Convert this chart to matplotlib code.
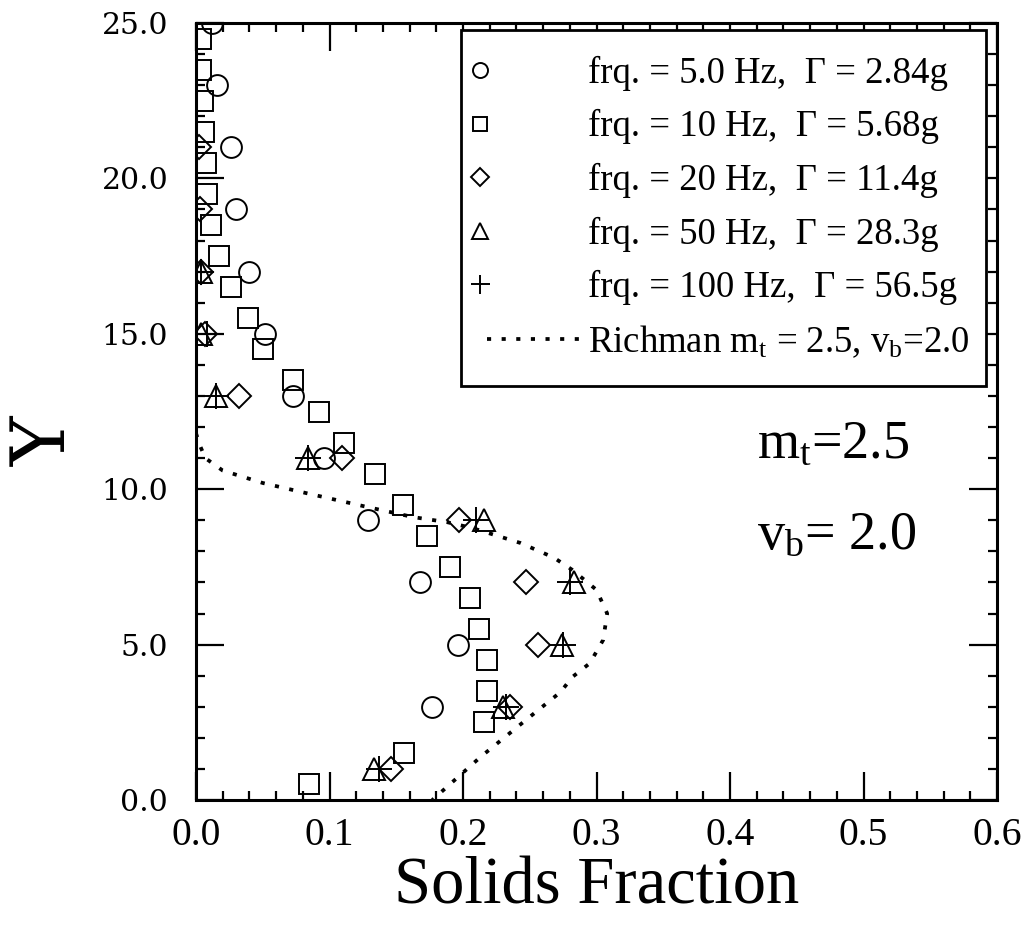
import numpy as np
import matplotlib
matplotlib.use("Agg")
import matplotlib.pyplot as plt
from matplotlib.ticker import MultipleLocator, FormatStrFormatter
from matplotlib.legend_handler import HandlerLine2DCompound

plt.rcParams['font.family'] = ['Liberation Serif', 'DejaVu Serif']
plt.rcParams['mathtext.fontset'] = 'custom'
plt.rcParams['mathtext.rm'] = 'Liberation Serif'
plt.rcParams['mathtext.it'] = 'Liberation Serif:italic'

# ---------------- data ----------------
circ_x = [0.012, 0.016, 0.026, 0.030, 0.040, 0.052, 0.073, 0.096, 0.129, 0.168, 0.196, 0.177]
circ_y = [25, 23, 21, 19, 17, 15, 13, 11, 9, 7, 5, 3]

sq_x = [0.004, 0.004, 0.005, 0.006, 0.0075, 0.008, 0.011, 0.017, 0.026, 0.039, 0.050,
        0.073, 0.092, 0.111, 0.134, 0.155, 0.173, 0.190, 0.205, 0.212, 0.218, 0.218,
        0.216, 0.156, 0.085]
sq_y = [24.5, 23.5, 22.5, 21.5, 20.5, 19.5, 18.5, 17.5, 16.5, 15.5, 14.5, 13.5, 12.5,
        11.5, 10.5, 9.5, 8.5, 7.5, 6.5, 5.5, 4.5, 3.5, 2.5, 1.5, 0.5]

dia_x = [0.002, 0.003, 0.004, 0.007, 0.032, 0.109, 0.197, 0.247, 0.256, 0.235, 0.146]
dia_y = [21, 19, 17, 15, 13, 11, 9, 7, 5, 3, 1]

tri_x = [0.004, 0.004, 0.015, 0.084, 0.216, 0.283, 0.274, 0.230, 0.133]
tri_y = [17, 15, 13, 11, 9, 7, 5, 3, 1]

plus_x = [0.004, 0.008, 0.015, 0.084, 0.210, 0.280, 0.275, 0.232, 0.137]
plus_y = [17, 15, 13, 11, 9, 7, 5, 3, 1]

rich_x = [0.0, 0.003, 0.007, 0.02, 0.05, 0.083, 0.128, 0.163, 0.188, 0.207, 0.243,
          0.268, 0.282, 0.300, 0.308, 0.305, 0.295, 0.282, 0.273, 0.245, 0.213, 0.177]
rich_y = [11.8, 11.4, 11.0, 10.6, 10.2, 9.87, 9.43, 9.1, 8.94, 8.75, 8.27,
          7.8, 7.4, 6.76, 6.0, 5.15, 4.4, 3.96, 3.47, 2.5, 1.38, 0.0]

labels = ["frq. = 5.0 Hz,  \u0393 = 2.84g",
          "frq. = 10 Hz,  \u0393 = 5.68g",
          "frq. = 20 Hz,  \u0393 = 11.4g",
          "frq. = 50 Hz,  \u0393 = 28.3g",
          "frq. = 100 Hz,  \u0393 = 56.5g",
          r"Richman m$_\mathrm{t}$ = 2.5, v$_\mathrm{b}$=2.0"]

x_ticks = [0.0, 0.1, 0.2, 0.3, 0.4, 0.5, 0.6]
y_ticks = [0.0, 5.0, 10.0, 15.0, 20.0, 25.0]

# ---------------- figure ----------------
fig = plt.figure(figsize=(10.26, 9.27), dpi=100)
ax = fig.add_axes([196/1026, 1-800/927, 801/1026, 777/927])

mk = dict(linestyle='none', markerfacecolor='none', markeredgecolor='black',
          color='black', markeredgewidth=1.4)
ax.plot(circ_x, circ_y, marker='o', markersize=15, label=labels[0], **mk)
ax.plot(sq_x, sq_y, marker='s', markersize=14, label=labels[1], **mk)
ax.plot(dia_x, dia_y, marker='D', markersize=12.5, label=labels[2], **mk)
ax.plot(tri_x, tri_y, marker='^', markersize=16, label=labels[3], **mk)
ax.plot(plus_x, plus_y, marker='+', markersize=19, label=labels[4], **mk)
ax.plot(rich_x, rich_y, color='black', linestyle=(0, (1.1, 2.8)), linewidth=2.7,
        label=labels[5])

ax.set_xlim(0, 0.6)
ax.set_ylim(0, 25)
ax.set_xticks(x_ticks)
ax.set_yticks(y_ticks)
ax.xaxis.set_minor_locator(MultipleLocator(0.02))
ax.yaxis.set_minor_locator(MultipleLocator(1))
ax.xaxis.set_major_formatter(FormatStrFormatter('%.1f'))
ax.yaxis.set_major_formatter(FormatStrFormatter('%.1f'))

ax.tick_params(which='both', direction='in', top=True, right=True, width=1.6, colors='black')
ax.tick_params(which='major', length=20)
ax.tick_params(which='minor', length=6.5)
ax.tick_params(axis='x', which='major', labelsize=28.5, pad=12)
ax.tick_params(axis='y', which='major', labelsize=21.5, pad=20)
for lab in ax.get_yticklabels():
    lab.set_fontfamily('DejaVu Serif')
for sp in ax.spines.values():
    sp.set_linewidth(2.2)

ax.set_xlabel("Solids Fraction", fontsize=48, labelpad=2)
ax.set_ylabel("Y", fontsize=54, fontfamily='DejaVu Serif')
ax.yaxis.set_label_coords(-0.143, 0.462)

ax.text(0.70, 0.441, r"m$_\mathrm{t}$=2.5", transform=ax.transAxes,
        fontsize=39, ha='left', va='baseline')
ax.text(0.70, 0.324, r"v$_\mathrm{b}$= 2.0", transform=ax.transAxes,
        fontsize=39, ha='left', va='baseline')


class LeftMarkerHandler(HandlerLine2DCompound):
    def get_xdata(self, legend, xdescent, ydescent, width, height, fontsize):
        xdata = np.array([-xdescent, -xdescent + width], float)
        xdata_marker = np.array([-xdescent - 5.0], float)
        return xdata, xdata_marker


handles, labs = ax.get_legend_handles_labels()
hmap = {h: LeftMarkerHandler() for h in handles[:5]}
leg = ax.legend(handles, labs, loc='upper left', bbox_to_anchor=(0.331, 0.0, 0.655, 0.991),
                mode='expand', borderaxespad=0, fontsize=26.5, handlelength=2.55,
                handletextpad=0.2, borderpad=0.7, labelspacing=0.5, markerscale=0.72,
                frameon=True, fancybox=False, edgecolor='black', framealpha=1,
                handler_map=hmap)
leg.get_frame().set_linewidth(2.0)

fig.savefig("out.png", dpi=100)
